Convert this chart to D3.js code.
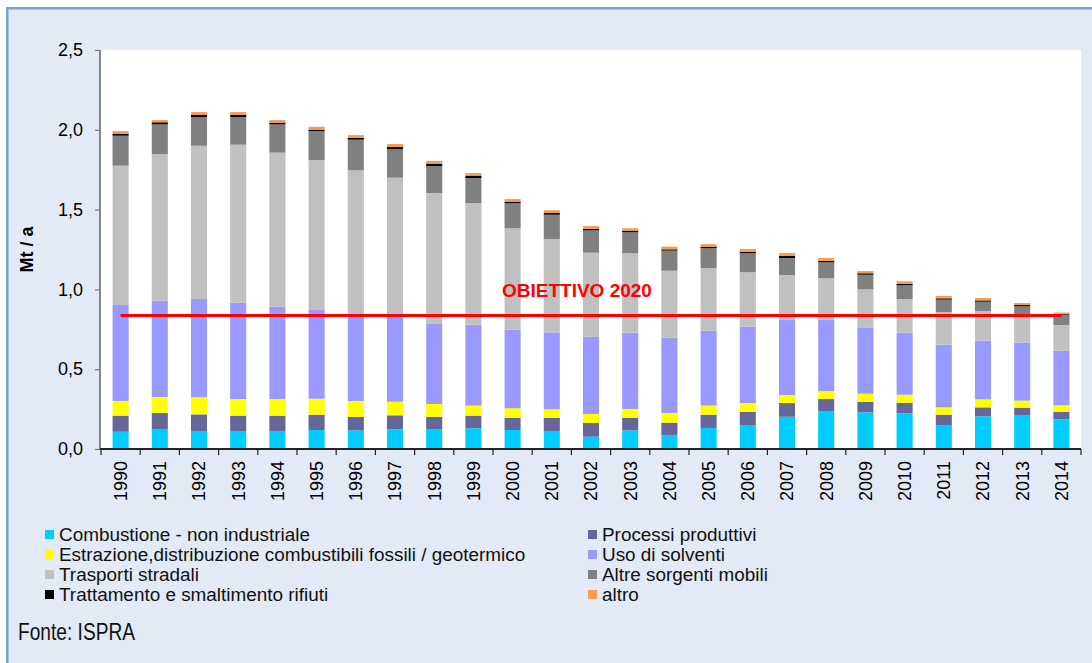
<!DOCTYPE html>
<html>
<head>
<meta charset="utf-8">
<script src="https://cdn.jsdelivr.net/npm/d3@7"></script>
<style>
  html, body { margin: 0; padding: 0; background: #ffffff; }
  svg { display: block; font-family: "Liberation Sans", Arial, sans-serif; }
</style>
</head>
<body>
<svg id="chart" width="1092" height="663"></svg>
<script>
const years = ["1990","1991","1992","1993","1994","1995","1996","1997","1998","1999","2000","2001","2002","2003","2004","2005","2006","2007","2008","2009","2010","2011","2012","2013","2014"];

const combustione = [0.108,0.125,0.113,0.113,0.113,0.119,0.117,0.123,0.125,0.130,0.119,0.113,0.077,0.117,0.088,0.132,0.150,0.202,0.238,0.230,0.223,0.150,0.205,0.209,0.186];
const processi    = [0.101,0.101,0.104,0.096,0.096,0.096,0.085,0.088,0.077,0.079,0.077,0.083,0.086,0.079,0.077,0.083,0.082,0.086,0.075,0.066,0.067,0.065,0.056,0.050,0.046];
const estrazione  = [0.092,0.100,0.107,0.104,0.104,0.100,0.099,0.085,0.080,0.063,0.059,0.053,0.056,0.055,0.061,0.057,0.056,0.050,0.050,0.050,0.050,0.046,0.050,0.044,0.042];
const solventi    = [0.601,0.603,0.616,0.604,0.579,0.556,0.534,0.539,0.505,0.507,0.493,0.482,0.485,0.478,0.471,0.469,0.478,0.470,0.445,0.416,0.389,0.393,0.368,0.363,0.342];
const trasporti   = [0.873,0.919,0.960,0.990,0.965,0.938,0.911,0.865,0.817,0.761,0.635,0.585,0.526,0.497,0.420,0.393,0.341,0.282,0.263,0.238,0.211,0.204,0.186,0.174,0.161];
const altreMobili = [0.188,0.186,0.180,0.173,0.177,0.182,0.192,0.178,0.169,0.158,0.157,0.152,0.140,0.132,0.126,0.124,0.119,0.107,0.099,0.092,0.086,0.078,0.058,0.054,0.065];
const trattamento = [0.013,0.013,0.013,0.013,0.011,0.010,0.011,0.014,0.015,0.015,0.010,0.011,0.010,0.010,0.008,0.010,0.010,0.014,0.009,0.009,0.008,0.008,0.008,0.008,0.005];
const altro       = [0.016,0.014,0.018,0.018,0.016,0.018,0.018,0.019,0.017,0.016,0.016,0.017,0.017,0.015,0.017,0.016,0.017,0.017,0.018,0.014,0.017,0.015,0.015,0.013,0.008];

const seriesNames = ["Combustione - non industriale","Processi produttivi","Estrazione,distribuzione combustibili fossili / geotermico","Uso di solventi","Trasporti stradali","Altre sorgenti mobili","Trattamento e smaltimento rifiuti","altro"];
const seriesColors = ["#00ccff","#666699","#ffff00","#9999ff","#c0c0c0","#808080","#000000","#f99b52"];
const seriesValues = [combustione, processi, estrazione, solventi, trasporti, altreMobili, trattamento, altro];

const yTicks = [0, 0.5, 1.0, 1.5, 2.0, 2.5];
const obiettivo = 0.837;
const obiettivoLabel = "OBIETTIVO 2020";
const yTitle = "Mt / a";
const source = "Fonte: ISPRA";

const svg = d3.select("#chart");

// Frame
svg.append("rect").attr("x", 7.25).attr("y", 8.25).attr("width", 1200).attr("height", 800)
  .attr("fill", "#e3e9f5").attr("stroke", "#7b9ed5").attr("stroke-width", 2.5);

const plot = {left: 100, right: 1081, top: 50, bottom: 449};
svg.append("rect").attr("x", plot.left).attr("y", plot.top)
  .attr("width", plot.right - plot.left).attr("height", plot.bottom - plot.top).attr("fill", "#ffffff");

const x = d3.scaleBand().domain(years).range([101, 1081]).paddingInner(0.59).paddingOuter(0.295);
const y = d3.scaleLinear().domain([0, 2.5]).range([plot.bottom, plot.top]);

// stack data
const table = years.map((yr, i) => {
  const row = {year: yr};
  seriesNames.forEach((n, k) => row[n] = seriesValues[k][i]);
  return row;
});
const stacked = d3.stack().keys(seriesNames)(table);

const g = svg.append("g");
g.selectAll("g.layer").data(stacked).join("g").attr("class", "layer")
  .attr("fill", (d, i) => seriesColors[i])
  .selectAll("rect").data(d => d).join("rect")
  .attr("x", d => x(d.data.year))
  .attr("width", x.bandwidth())
  .attr("y", d => y(d[1]))
  .attr("height", d => y(d[0]) - y(d[1]));

// Objective line
svg.append("line")
  .attr("x1", x(years[0]) + x.bandwidth() / 2)
  .attr("x2", x(years[years.length - 1]) + x.bandwidth() / 2)
  .attr("y1", y(obiettivo)).attr("y2", y(obiettivo))
  .attr("stroke", "#ff0000").attr("stroke-width", 3);

svg.append("text")
  .attr("x", x("2002") - 6)
  .attr("y", y(obiettivo) - 18)
  .attr("text-anchor", "middle")
  .attr("fill", "#ff0000").attr("font-weight", "bold").attr("font-size", "19px")
  .text(obiettivoLabel);

// Y axis
const fmt = d => d3.format(".1f")(d).replace(".", ",");
const yAxis = svg.append("g").attr("transform", `translate(${plot.left},0)`)
  .call(d3.axisLeft(y).tickValues(yTicks).tickFormat(fmt).tickSize(5).tickPadding(12));
yAxis.select(".domain").attr("stroke", "#7a7a7a").attr("stroke-width", 1.8).attr("d", `M0,${plot.top}V${plot.bottom}`);
yAxis.selectAll(".tick line").attr("stroke", "#7a7a7a").attr("stroke-width", 1.2);
yAxis.selectAll(".tick text").attr("font-size", "18px").attr("fill", "#000").attr("font-family", "Liberation Sans, Arial, sans-serif");

// X axis
const xAxis = svg.append("g").attr("transform", `translate(0,${plot.bottom})`)
  .call(d3.axisBottom(x).tickSize(0).tickPadding(0));
xAxis.select(".domain").attr("stroke", "#222").attr("stroke-width", 1.8).attr("d", `M${plot.left},0H${plot.right}`);
xAxis.selectAll(".tick text")
  .attr("font-size", "18px").attr("fill", "#000").attr("font-family", "Liberation Sans, Arial, sans-serif")
  .attr("text-anchor", "end")
  .attr("transform", "translate(0,12) rotate(-90)")
  .attr("x", 0).attr("y", 0).attr("dy", "0.35em");
// boundary ticks
const stepPad = (x.step() - x.bandwidth()) / 2;
const bounds = years.map(yr => x(yr) - stepPad).concat([x(years[years.length - 1]) + x.bandwidth() + stepPad]);
xAxis.selectAll("line.bt").data(bounds).join("line").attr("class", "bt")
  .attr("x1", d => d).attr("x2", d => d).attr("y1", 0).attr("y2", 6)
  .attr("stroke", "#222").attr("stroke-width", 1.2);

// Y title
svg.append("text")
  .attr("transform", `translate(27,${(plot.top + plot.bottom) / 2}) rotate(-90)`)
  .attr("text-anchor", "middle").attr("dy", "0.35em")
  .attr("font-weight", "bold").attr("font-size", "18px").attr("fill", "#000")
  .text(yTitle);

// Legend
const legendCols = [{sq: 45, tx: 59}, {sq: 588, tx: 602}];
const baselines = [541, 561, 581, 601];
const leg = svg.append("g");
seriesNames.forEach((n, i) => {
  const col = legendCols[i % 2];
  const bl = baselines[Math.floor(i / 2)];
  leg.append("rect").attr("x", col.sq).attr("y", bl - 11).attr("width", 9).attr("height", 9).attr("fill", seriesColors[i]);
  leg.append("text").attr("x", col.tx).attr("y", bl).attr("font-size", "18.9px").attr("fill", "#111").text(n);
});

// Source
svg.append("text").attr("x", 18).attr("y", 640)
  .attr("font-size", "24px").attr("fill", "#111")
  .attr("textLength", 117).attr("lengthAdjust", "spacingAndGlyphs")
  .text(source);
</script>
</body>
</html>
